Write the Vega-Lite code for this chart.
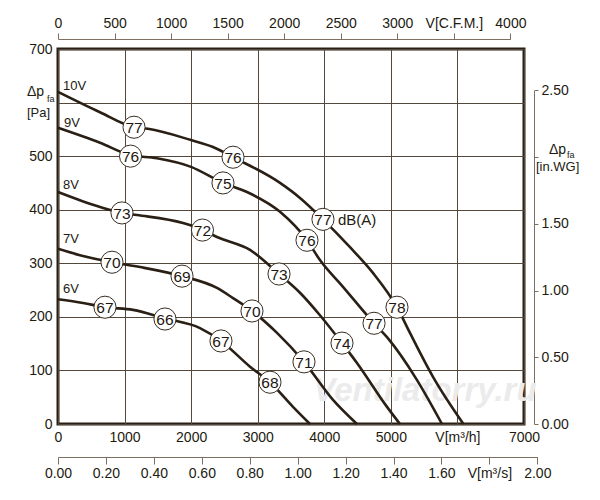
{
  "$schema": "https://vega.github.io/schema/vega-lite/v6.json",
  "width": 466,
  "height": 375,
  "autosize": "none",
  "padding": {"left": 58, "top": 49, "right": 76, "bottom": 76},
  "background": "white",
  "config": {
    "font": "Liberation Sans",
    "view": {"stroke": "#2a1f14", "strokeWidth": 3},
    "axis": {"labelFont": "Liberation Sans", "labelFontSize": 14, "labelColor": "#231a10", "labelFlush": false, "labelOverlap": false, "title": null}
  },
  "datasets": {
    "curves": [
      {"v": "10V", "q": 0, "p": 620}, {"v": "10V", "q": 631, "p": 582}, {"v": "10V", "q": 1142, "p": 554}, {"v": "10V", "q": 1352, "p": 551}, {"v": "10V", "q": 1998, "p": 530}, {"v": "10V", "q": 2328, "p": 517}, {"v": "10V", "q": 2629, "p": 498}, {"v": "10V", "q": 3335, "p": 450}, {"v": "10V", "q": 3635, "p": 422}, {"v": "10V", "q": 3980, "p": 382}, {"v": "10V", "q": 4386, "p": 330}, {"v": "10V", "q": 4731, "p": 282}, {"v": "10V", "q": 5092, "p": 218}, {"v": "10V", "q": 5287, "p": 170}, {"v": "10V", "q": 5633, "p": 88}, {"v": "10V", "q": 6090, "p": 0},
      {"v": "9V", "q": 0, "p": 553}, {"v": "9V", "q": 631, "p": 525}, {"v": "9V", "q": 1081, "p": 502}, {"v": "9V", "q": 1487, "p": 496}, {"v": "9V", "q": 1998, "p": 480}, {"v": "9V", "q": 2478, "p": 450}, {"v": "9V", "q": 2839, "p": 433}, {"v": "9V", "q": 3335, "p": 396}, {"v": "9V", "q": 3740, "p": 343}, {"v": "9V", "q": 3935, "p": 306}, {"v": "9V", "q": 4281, "p": 256}, {"v": "9V", "q": 4747, "p": 188}, {"v": "9V", "q": 4942, "p": 162}, {"v": "9V", "q": 5393, "p": 82}, {"v": "9V", "q": 5768, "p": 0},
      {"v": "8V", "q": 0, "p": 433}, {"v": "8V", "q": 631, "p": 405}, {"v": "8V", "q": 961, "p": 394}, {"v": "8V", "q": 1187, "p": 390}, {"v": "8V", "q": 1878, "p": 375}, {"v": "8V", "q": 2178, "p": 362}, {"v": "8V", "q": 2388, "p": 349}, {"v": "8V", "q": 2884, "p": 325}, {"v": "8V", "q": 3320, "p": 280}, {"v": "8V", "q": 3635, "p": 245}, {"v": "8V", "q": 3935, "p": 203}, {"v": "8V", "q": 4266, "p": 151}, {"v": "8V", "q": 4491, "p": 114}, {"v": "8V", "q": 4942, "p": 32}, {"v": "8V", "q": 5137, "p": 0},
      {"v": "7V", "q": 0, "p": 327}, {"v": "7V", "q": 330, "p": 315}, {"v": "7V", "q": 811, "p": 302}, {"v": "7V", "q": 1232, "p": 293}, {"v": "7V", "q": 1863, "p": 276}, {"v": "7V", "q": 2388, "p": 254}, {"v": "7V", "q": 2629, "p": 235}, {"v": "7V", "q": 2914, "p": 211}, {"v": "7V", "q": 3290, "p": 170}, {"v": "7V", "q": 3695, "p": 116}, {"v": "7V", "q": 4131, "p": 45}, {"v": "7V", "q": 4491, "p": 0},
      {"v": "6V", "q": 0, "p": 233}, {"v": "6V", "q": 376, "p": 226}, {"v": "6V", "q": 706, "p": 218}, {"v": "6V", "q": 1127, "p": 213}, {"v": "6V", "q": 1607, "p": 197}, {"v": "6V", "q": 2133, "p": 179}, {"v": "6V", "q": 2448, "p": 155}, {"v": "6V", "q": 2884, "p": 107}, {"v": "6V", "q": 3184, "p": 78}, {"v": "6V", "q": 3530, "p": 32}, {"v": "6V", "q": 3785, "p": 0}
    ],
    "noise": [
      {"v": "10V", "q": 1142, "p": 554, "db": "77"}, {"v": "10V", "q": 2629, "p": 498, "db": "76"}, {"v": "10V", "q": 3980, "p": 382, "db": "77"}, {"v": "10V", "q": 5092, "p": 218, "db": "78"},
      {"v": "9V", "q": 1090, "p": 500, "db": "76"}, {"v": "9V", "q": 2478, "p": 450, "db": "75"}, {"v": "9V", "q": 3740, "p": 343, "db": "76"}, {"v": "9V", "q": 4747, "p": 188, "db": "77"},
      {"v": "8V", "q": 961, "p": 394, "db": "73"}, {"v": "8V", "q": 2170, "p": 362, "db": "72"}, {"v": "8V", "q": 3320, "p": 280, "db": "73"}, {"v": "8V", "q": 4266, "p": 151, "db": "74"},
      {"v": "7V", "q": 811, "p": 302, "db": "70"}, {"v": "7V", "q": 1863, "p": 276, "db": "69"}, {"v": "7V", "q": 2914, "p": 211, "db": "70"}, {"v": "7V", "q": 3695, "p": 116, "db": "71"},
      {"v": "6V", "q": 706, "p": 218, "db": "67"}, {"v": "6V", "q": 1607, "p": 196, "db": "66"}, {"v": "6V", "q": 2448, "p": 155, "db": "67"}, {"v": "6V", "q": 3184, "p": 78, "db": "68"}
    ],
    "curveLabels": [
      {"t": "10V", "q": 75, "p": 631}, {"t": "9V", "q": 90, "p": 562}, {"t": "8V", "q": 75, "p": 446}, {"t": "7V", "q": 75, "p": 345}, {"t": "6V", "q": 75, "p": 252}
    ],
    "units": [
      {"k": "delta", "t": "Δp", "q": -466, "p": 619}, {"k": "sub", "t": "fa", "q": -165, "p": 606}, {"k": "unit", "t": "[Pa]", "q": -466, "p": 581},
      {"k": "delta", "t": "Δp", "q": 7375, "p": 511}, {"k": "sub", "t": "fa", "q": 7645, "p": 503}, {"k": "unit", "t": "[in.WG]", "q": 7180, "p": 480}
    ],
    "dbLabel": [{"t": "dB(A)", "q": 4206, "p": 380}],
    "watermark": [{"t": "Ventilatorry.ru", "q": 5513, "p": 62}],
    "cfmAxis": [{"cfm": 0}, {"cfm": 4000}],
    "m3sAxis": [{"qs": 0}, {"qs": 2}],
    "inwgAxis": [{"w": 0}, {"w": 2.5}]
  },
  "layer": [
    {
      "layer": [
        {
          "data": {"name": "watermark"},
          "mark": {"type": "text", "fontSize": 33, "fontStyle": "italic", "fontWeight": "bold", "color": "#ebebeb", "align": "center", "baseline": "middle", "font": "Liberation Sans"},
          "encoding": {
            "x": {"field": "q", "type": "quantitative", "scale": {"domain": [0, 7000], "nice": false},
              "axis": {"orient": "bottom", "values": [0, 1000, 2000, 3000, 4000, 5000, 6000, 7000], "format": "d", "labelExpr": "datum.value == 6000 ? 'V[m³/h]' : datum.label", "grid": true, "gridColor": "#54483c", "gridWidth": 1, "ticks": false, "domain": false, "labelPadding": 6}},
            "y": {"field": "p", "type": "quantitative", "scale": {"domain": [0, 700], "nice": false},
              "axis": {"orient": "left", "values": [0, 100, 200, 300, 400, 500, 600, 700], "labelExpr": "datum.value == 600 ? '' : datum.label", "grid": true, "gridColor": "#54483c", "gridWidth": 1, "ticks": false, "domain": false, "labelPadding": 6}},
            "text": {"field": "t"}
          }
        },
        {
          "data": {"name": "curves"},
          "mark": {"type": "line", "interpolate": "monotone", "color": "#2a1f14", "strokeWidth": 2.6},
          "encoding": {
            "x": {"field": "q", "type": "quantitative"},
            "y": {"field": "p", "type": "quantitative"},
            "detail": {"field": "v"}
          }
        },
        {
          "data": {"name": "noise"},
          "mark": {"type": "point", "shape": "circle", "size": 490, "filled": true, "fill": "white", "stroke": "#3a2e22", "strokeWidth": 1, "opacity": 1},
          "encoding": {
            "x": {"field": "q", "type": "quantitative"},
            "y": {"field": "p", "type": "quantitative"}
          }
        },
        {
          "data": {"name": "noise"},
          "mark": {"type": "text", "fontSize": 15.5, "color": "#1e1610", "align": "center", "baseline": "middle", "dy": 1},
          "encoding": {
            "x": {"field": "q", "type": "quantitative"},
            "y": {"field": "p", "type": "quantitative"},
            "text": {"field": "db"}
          }
        },
        {
          "data": {"name": "curveLabels"},
          "mark": {"type": "text", "fontSize": 13, "color": "#231a10", "align": "left", "baseline": "middle"},
          "encoding": {
            "x": {"field": "q", "type": "quantitative"},
            "y": {"field": "p", "type": "quantitative"},
            "text": {"field": "t"}
          }
        },
        {
          "data": {"name": "dbLabel"},
          "mark": {"type": "text", "fontSize": 15, "color": "#231a10", "align": "left", "baseline": "middle"},
          "encoding": {
            "x": {"field": "q", "type": "quantitative"},
            "y": {"field": "p", "type": "quantitative"},
            "text": {"field": "t"}
          }
        },
        {
          "data": {"name": "units"},
          "transform": [{"filter": "datum.k == 'delta'"}],
          "mark": {"type": "text", "fontSize": 14, "color": "#231a10", "align": "left", "baseline": "middle"},
          "encoding": {
            "x": {"field": "q", "type": "quantitative"},
            "y": {"field": "p", "type": "quantitative"},
            "text": {"field": "t"}
          }
        },
        {
          "data": {"name": "units"},
          "transform": [{"filter": "datum.k == 'sub'"}],
          "mark": {"type": "text", "fontSize": 9, "color": "#231a10", "align": "left", "baseline": "middle"},
          "encoding": {
            "x": {"field": "q", "type": "quantitative"},
            "y": {"field": "p", "type": "quantitative"},
            "text": {"field": "t"}
          }
        },
        {
          "data": {"name": "units"},
          "transform": [{"filter": "datum.k == 'unit'"}],
          "mark": {"type": "text", "fontSize": 13, "color": "#231a10", "align": "left", "baseline": "middle"},
          "encoding": {
            "x": {"field": "q", "type": "quantitative"},
            "y": {"field": "p", "type": "quantitative"},
            "text": {"field": "t"}
          }
        }
      ]
    },
    {
      "data": {"name": "cfmAxis"},
      "mark": {"type": "point", "opacity": 0},
      "encoding": {
        "x": {"field": "cfm", "type": "quantitative", "scale": {"domain": [0, 4000], "range": [0, 452.4], "nice": false},
          "axis": {"orient": "top", "offset": 10, "values": [0, 500, 1000, 1500, 2000, 2500, 3000, 3500, 4000], "format": "d", "labelExpr": "datum.value == 3500 ? 'V[C.F.M.]' : datum.label", "grid": false, "tickSize": 6, "tickColor": "#7d7063", "domainColor": "#7d7063", "labelPadding": 3}}
      }
    },
    {
      "data": {"name": "m3sAxis"},
      "mark": {"type": "point", "opacity": 0},
      "encoding": {
        "x": {"field": "qs", "type": "quantitative", "scale": {"domain": [0, 2], "range": [0, 479.3], "nice": false},
          "axis": {"orient": "bottom", "offset": 33, "values": [0, 0.2, 0.4, 0.6, 0.8, 1.0, 1.2, 1.4, 1.6, 1.8, 2.0], "format": ".2f", "labelExpr": "abs(datum.value - 1.8) < 0.01 ? 'V[m³/s]' : datum.label", "grid": false, "tickSize": 7, "tickColor": "#7d7063", "domainColor": "#7d7063", "labelPadding": 2}}
      }
    },
    {
      "data": {"name": "inwgAxis"},
      "mark": {"type": "point", "opacity": 0},
      "encoding": {
        "y": {"field": "w", "type": "quantitative", "scale": {"domain": [0, 2.5], "range": [375, 41.4], "nice": false},
          "axis": {"orient": "right", "offset": 10, "values": [0, 0.5, 1.0, 1.5, 2.0, 2.5], "format": ".2f", "labelExpr": "abs(datum.value - 2) < 0.01 ? '' : datum.label", "grid": false, "tickSize": 4, "tickColor": "#7d7063", "domainColor": "#7d7063", "labelPadding": 3}}
      }
    }
  ],
  "resolve": {"scale": {"x": "independent", "y": "independent"}, "axis": {"x": "independent", "y": "independent"}}
}
